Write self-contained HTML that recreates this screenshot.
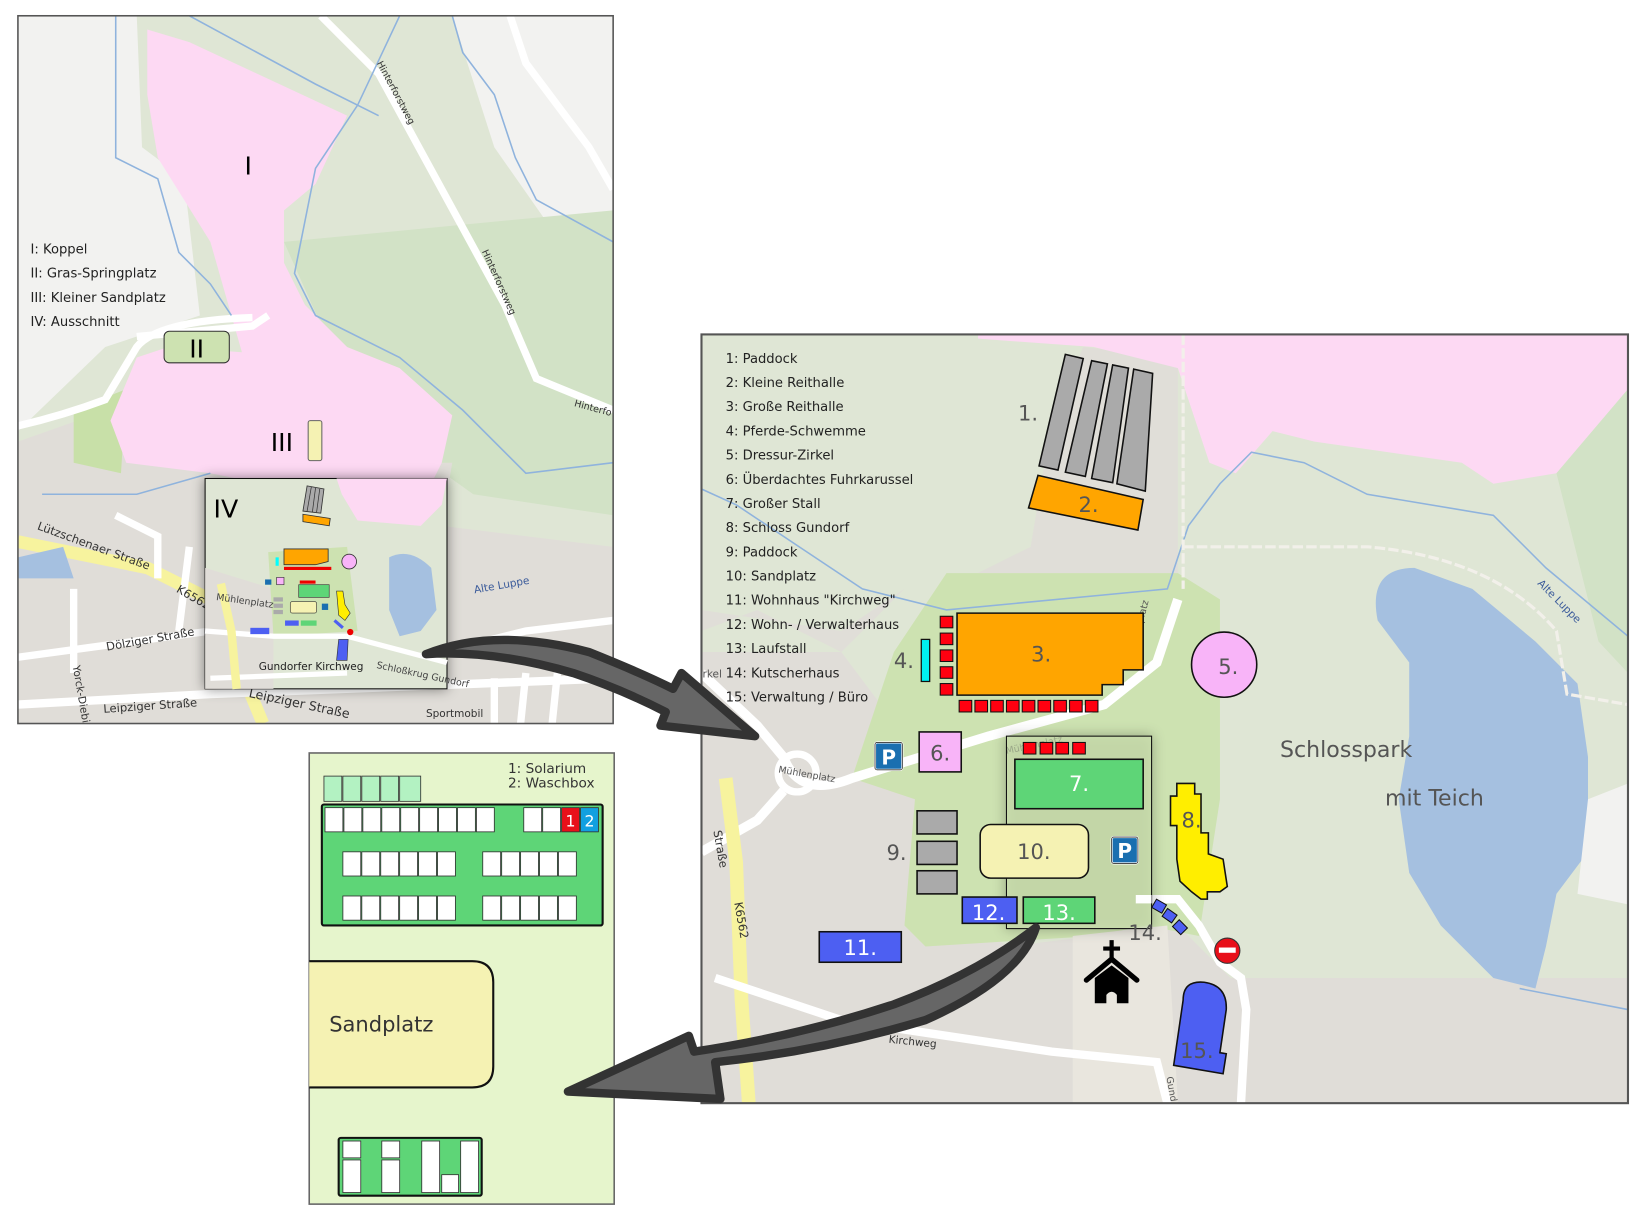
<!DOCTYPE html>
<html><head><meta charset="utf-8"><style>
html,body{margin:0;padding:0;background:#fff;}
svg{display:block;}
text{font-family:"DejaVu Sans","Liberation Sans",sans-serif;}
</style></head><body>
<svg width="1648" height="1222" viewBox="0 0 1567 1162" xmlns="http://www.w3.org/2000/svg">
<defs>
<clipPath id="cl"><rect x="17" y="15" width="566" height="673"/></clipPath>
<clipPath id="cr"><rect x="667" y="318" width="881" height="731"/></clipPath>
<filter id="sh" x="-20%" y="-20%" width="140%" height="140%"><feDropShadow dx="0" dy="0" stdDeviation="6" flood-color="#000" flood-opacity="0.45"/></filter>
</defs>
<rect width="1567" height="1162" fill="#fff"/>

<!-- LEFT MAP -->
<g clip-path="url(#cl)">
<rect x="17" y="15" width="566" height="673" fill="#dfe6d5"/>
<path d="M17 15 L130 15 L135 140 L175 170 L190 300 L100 330 L17 410 Z" fill="#f2f2f0"/>
<path d="M430 15 L583 15 L583 220 L540 240 L470 140 Z" fill="#f2f2f0"/>
<path d="M270 230 L583 200 L583 490 L450 470 L380 420 L310 320 Z" fill="#d2e2c6"/>
<path d="M17 420 L130 380 L330 440 L430 440 L420 500 L583 520 L583 688 L17 688 Z" fill="#e0ddd8"/>
<path d="M70 390 L120 370 L115 450 L70 440 Z" fill="#c8e0a8"/>
<path d="M140 28 L180 40 L330 110 L300 175 L270 200 L270 250 L290 290 L330 330 L380 350 L430 395 L420 440 L400 480 L300 470 L200 450 L120 440 L105 400 L130 340 L160 330 L230 335 L220 300 L200 230 L150 150 L140 90 Z" fill="#fdd9f3"/>
<path d="M130 320 L240 310 L255 300" stroke="#fff" stroke-width="7" fill="none"/>
<path d="M17 405 Q60 395 100 380 L130 330 Q150 305 240 302" stroke="#fff" stroke-width="7" fill="none"/>
<path d="M305 15 L360 70 L420 180 L480 290 L510 360 L583 390" stroke="#fff" stroke-width="7" fill="none"/>
<path d="M485 15 L500 60 L560 140 L583 180" stroke="#fff" stroke-width="7" fill="none"/>
<path d="M110 15 L110 150 L150 170 L170 240 L200 270 L220 300" stroke="#8fb3dd" stroke-width="1.5" fill="none"/>
<path d="M180 15 L300 80 L360 110" stroke="#8fb3dd" stroke-width="1.5" fill="none"/>
<path d="M380 15 L340 100 L300 160 L280 260 L300 300 L380 340 L440 390 L500 450 L583 440" stroke="#8fb3dd" stroke-width="1.5" fill="none"/>
<path d="M430 15 L440 50 L470 90 L490 150 L510 190 L583 230" stroke="#8fb3dd" stroke-width="1.5" fill="none"/>
<path d="M40 470 L130 470 L200 450" stroke="#8fb3dd" stroke-width="1.5" fill="none"/>
<path d="M17 515 L140 540 L200 570 L230 640 L250 688" stroke="#f7f39e" stroke-width="12" fill="none"/>
<path d="M17 670 L200 660 L583 645" stroke="#fff" stroke-width="8" fill="none"/>
<path d="M17 625 L200 600 L260 590" stroke="#fff" stroke-width="7" fill="none"/>
<path d="M110 490 L150 510 L150 550 M70 560 L70 640 M180 520 L170 600" stroke="#fff" stroke-width="7" fill="none"/>
<path d="M17 530 L60 520 L70 550 L17 550 Z" fill="#a5c0e0"/>
<path d="M420 620 L500 600 L583 590" stroke="#fff" stroke-width="7" fill="none"/>
<path d="M470 645 L470 688 M500 640 L495 688 M530 640 L525 688" stroke="#fff" stroke-width="7" fill="none"/>
<text x="322" y="60" font-size="9" fill="#333" transform="rotate(62 340 90)">Hinterforstweg</text>
<text x="425" y="250" font-size="9" fill="#333" transform="rotate(66 450 270)">Hinterforstweg</text>
<text x="545" y="390" font-size="9" fill="#333" transform="rotate(15 560 390)">Hinterfo</text>
<text x="30" y="520" font-size="11" fill="#333" transform="rotate(20 80 525)">Lützschenaer Straße</text>
<text x="165" y="570" font-size="11" fill="#333" transform="rotate(30 180 570)">K6562</text>
<text x="100" y="612" font-size="11" fill="#333" transform="rotate(-10 140 606)">Dölziger Straße</text>
<text x="98" y="675" font-size="11" fill="#333" transform="rotate(-4 140 670)">Leipziger Straße</text>
<text x="235" y="672" font-size="12" fill="#333" transform="rotate(12 280 672)">Leipziger Straße</text>
<text x="55" y="630" font-size="10" fill="#333" transform="rotate(80 60 640)">Yorck-Diebi</text>
<text x="450" y="560" font-size="10" fill="#3a5a9a" transform="rotate(-10 475 555)">Alte Luppe</text>
<text x="405" y="682" font-size="10" fill="#333">Sportmobil</text>
<text x="236" y="166" font-size="24" fill="#000" text-anchor="middle" font-family="Liberation Serif,serif">I</text>
<text x="29" y="241" font-size="12.5" fill="#222">I: Koppel</text>
<text x="29" y="264" font-size="12.5" fill="#222">II: Gras-Springplatz</text>
<text x="29" y="287" font-size="12.5" fill="#222">III: Kleiner Sandplatz</text>
<text x="29" y="310" font-size="12.5" fill="#222">IV: Ausschnitt</text>
<rect x="156" y="315" width="62" height="30" rx="5" fill="#cde2b1" stroke="#333" stroke-width="1"/>
<text x="187" y="340" font-size="24" fill="#000" text-anchor="middle" font-family="Liberation Serif,serif">II</text>
<text x="268" y="429" font-size="24" fill="#000" text-anchor="middle" font-family="Liberation Serif,serif">III</text>
<rect x="293" y="400" width="13" height="38" rx="2" fill="#f5f2b3" stroke="#666" stroke-width="1"/>
<g filter="url(#sh)"><rect x="195" y="455" width="230" height="200" fill="#dfe6d5" stroke="#111" stroke-width="1"/></g>
<path d="M320 455 L425 455 L420 480 L400 500 L340 495 L325 470 Z" fill="#fdd9f3"/>
<path d="M195 540 L260 560 L260 655 L195 655 Z" fill="#e0ddd8"/>
<path d="M255 525 L330 520 L340 600 L260 605 Z" fill="#cde2b1"/>
<path d="M370 530 Q390 520 410 540 L415 580 L400 600 L380 605 L370 580 Z" fill="#a5c0e0"/>
<path d="M195 600 L260 605 L330 605 L425 630" stroke="#fff" stroke-width="5" fill="none"/>
<path d="M200 645 L330 640" stroke="#fff" stroke-width="5" fill="none"/>
<path d="M210 555 L220 600 L225 655" stroke="#f7f39e" stroke-width="8" fill="none"/>
<text x="203" y="492" font-size="24" fill="#000" font-family="Liberation Serif,serif">IV</text>
<g transform="translate(288,462)"><path d="M4 0 L20 3 L17 26 L0 24 Z" fill="#aaa" stroke="#333" stroke-width="0.8"/><path d="M8 1 L4 24 M12 2 L9 25 M16 3 L13 25" stroke="#333" stroke-width="0.7"/><path d="M0 27 L26 31 L25 38 L0 34 Z" fill="#ffa500" stroke="#333" stroke-width="0.8"/></g>
<path d="M270 522 L312 522 L312 534 L300 537 L270 537 Z" fill="#ffa500" stroke="#333" stroke-width="0.8"/>
<rect x="262" y="530" width="3" height="8" fill="#0ff"/>
<rect x="285" y="552" width="15" height="3" fill="#e00"/>
<rect x="270" y="539" width="45" height="3" fill="#e00"/>
<circle cx="332" cy="534" r="7" fill="#f8b4f8" stroke="#333" stroke-width="0.8"/>
<rect x="263" y="549" width="7" height="7" fill="#f8b4f8" stroke="#333" stroke-width="0.6"/>
<rect x="252" y="551" width="6" height="5" fill="#1a6fb0"/>
<rect x="284" y="556" width="29" height="12" fill="#5ed577" stroke="#333" stroke-width="0.6"/>
<rect x="276" y="572" width="25" height="11" rx="2" fill="#f5f2b3" stroke="#333" stroke-width="0.6"/>
<rect x="260" y="568" width="9" height="4" fill="#aaa"/><rect x="260" y="574" width="9" height="4" fill="#aaa"/><rect x="260" y="580" width="9" height="4" fill="#aaa"/>
<rect x="306" y="574" width="6" height="6" fill="#1a6fb0"/>
<rect x="271" y="590" width="13" height="5" fill="#4d5ff2"/><rect x="286" y="590" width="15" height="5" fill="#5ed577"/>
<rect x="238" y="597" width="18" height="6" fill="#4d5ff2"/>
<path d="M320 562 L326 562 L328 575 L333 583 L328 590 L322 585 Z" fill="#ffee00" stroke="#333" stroke-width="0.6"/>
<path d="M318 590 L326 597" stroke="#4d5ff2" stroke-width="3"/>
<circle cx="333" cy="601" r="3" fill="#e00"/>
<path d="M322 608 L331 608 L330 628 L320 628 Z" fill="#4d5ff2" stroke="#333" stroke-width="0.6"/>
<text x="205" y="574" font-size="9" fill="#444" transform="rotate(8 230 574)">Mühlenplatz</text>
<text x="246" y="637" font-size="10" fill="#222">Gundorfer Kirchweg</text>
<text x="356" y="640" font-size="9" fill="#444" transform="rotate(12 380 645)">Schloßkrug Gundorf</text>
</g>
<rect x="17" y="15" width="566" height="673" fill="none" stroke="#555" stroke-width="1.5"/>

<!-- BOTTOM-LEFT panel -->
<rect x="294" y="716" width="290" height="429" fill="#e6f5cc" stroke="#666" stroke-width="1.5"/>
<text x="483" y="735" font-size="13" fill="#333">1: Solarium</text>
<text x="483" y="749" font-size="13" fill="#333">2: Waschbox</text>
<g fill="#b3f2c2" stroke="#333" stroke-width="0.8">
<rect x="308" y="738" width="17" height="24"/><rect x="326" y="738" width="17" height="24"/><rect x="344" y="738" width="17" height="24"/><rect x="362" y="738" width="17" height="24"/><rect x="380" y="738" width="20" height="24"/>
</g>
<rect x="306" y="765" width="267" height="115" rx="2" fill="#5ed577" stroke="#111" stroke-width="2"/>
<g fill="#fff" stroke="#333" stroke-width="0.8">
<rect x="309" y="768" width="17" height="23"/><rect x="327" y="768" width="17" height="23"/><rect x="345" y="768" width="17" height="23"/><rect x="363" y="768" width="17" height="23"/><rect x="381" y="768" width="17" height="23"/><rect x="399" y="768" width="17" height="23"/><rect x="417" y="768" width="17" height="23"/><rect x="435" y="768" width="17" height="23"/><rect x="453" y="768" width="17" height="23"/>
<rect x="498" y="768" width="17" height="23"/><rect x="516" y="768" width="17" height="23"/>
<rect x="326" y="810" width="17" height="23"/><rect x="344" y="810" width="17" height="23"/><rect x="362" y="810" width="17" height="23"/><rect x="380" y="810" width="17" height="23"/><rect x="398" y="810" width="17" height="23"/><rect x="416" y="810" width="17" height="23"/>
<rect x="459" y="810" width="17" height="23"/><rect x="477" y="810" width="17" height="23"/><rect x="495" y="810" width="17" height="23"/><rect x="513" y="810" width="17" height="23"/><rect x="531" y="810" width="17" height="23"/>
<rect x="326" y="852" width="17" height="23"/><rect x="344" y="852" width="17" height="23"/><rect x="362" y="852" width="17" height="23"/><rect x="380" y="852" width="17" height="23"/><rect x="398" y="852" width="17" height="23"/><rect x="416" y="852" width="17" height="23"/>
<rect x="459" y="852" width="17" height="23"/><rect x="477" y="852" width="17" height="23"/><rect x="495" y="852" width="17" height="23"/><rect x="513" y="852" width="17" height="23"/><rect x="531" y="852" width="17" height="23"/>
</g>
<rect x="534" y="768" width="17" height="23" fill="#e8101a" stroke="#333" stroke-width="0.8"/>
<rect x="552" y="768" width="17" height="23" fill="#12a0e0" stroke="#333" stroke-width="0.8"/>
<text x="542.5" y="786" font-size="15" fill="#fff" text-anchor="middle">1</text>
<text x="560.5" y="786" font-size="15" fill="#fff" text-anchor="middle">2</text>
<path d="M294 914 L449 914 Q469 914 469 934 L469 1014 Q469 1034 449 1034 L294 1034" fill="#f5f2b3" stroke="#111" stroke-width="2"/>
<text x="313" y="981" font-size="20" fill="#333">Sandplatz</text>
<rect x="322" y="1082" width="136" height="55" rx="2" fill="#5ed577" stroke="#111" stroke-width="2"/>
<g fill="#fff" stroke="#333" stroke-width="0.8">
<rect x="326" y="1085" width="17" height="16"/><rect x="326" y="1103" width="17" height="31"/>
<rect x="363" y="1085" width="17" height="16"/><rect x="363" y="1103" width="17" height="31"/>
<rect x="401" y="1085" width="17" height="49"/><rect x="420" y="1117" width="16" height="17"/><rect x="438" y="1085" width="17" height="49"/>
</g>

<!-- RIGHT MAP -->
<g clip-path="url(#cr)">
<rect x="667" y="318" width="881" height="731" fill="#dfe6d5"/>
<path d="M667 600 L720 580 L800 620 L860 560 L900 560 L1120 550 L1120 340 L1030 330 L1000 400 L980 520 L900 560 L860 560 L800 600 L667 580 Z" fill="#e0ddd8" opacity="0.9"/>
<path d="M667 620 L800 620 L860 700 L900 870 L960 900 L1040 890 L1120 880 L1170 930 L1548 930 L1548 1049 L667 1049 Z" fill="#e0ddd8"/>
<path d="M900 545 L1120 545 L1160 570 L1160 760 L1140 890 L1090 880 L1040 890 L880 900 L860 880 L870 760 L810 740 L850 620 Z" fill="#cde2b1"/>
<path d="M1020 890 L1110 880 L1120 1049 L1020 1049 Z" fill="#e9e6de"/>
<path d="M930 318 L1548 318 L1548 370 L1480 450 L1420 460 L1390 440 L1250 420 L1210 410 L1175 450 L1150 440 L1120 350 L1040 330 L930 322 Z" fill="#fdd9f3"/>
<path d="M1480 450 L1548 370 L1548 640 L1520 610 Z" fill="#d2e2c6"/>
<path d="M1345 540 Q1300 540 1310 590 L1340 630 L1340 700 L1330 760 L1340 830 L1370 880 L1420 930 L1460 940 L1470 900 L1480 850 L1510 810 L1510 720 L1500 650 L1460 610 L1400 560 Z" fill="#a5c0e0"/>
<path d="M1510 760 L1548 745 L1548 860 L1500 850 Z" fill="#f2f2f0"/>
<path d="M667 465 L700 480 L760 520 L820 560 L900 580 L1110 560 L1130 500 L1160 460 L1190 430 L1240 440 L1300 470 L1420 490 L1470 540 L1548 605" stroke="#8fb3dd" stroke-width="1.5" fill="none"/>
<path d="M1445 940 L1548 960" stroke="#8fb3dd" stroke-width="1.5" fill="none"/>
<path d="M1125 318 L1125 560" stroke="#f2f0ea" stroke-width="3" stroke-dasharray="10 3" fill="none"/>
<path d="M1125 520 L1300 520 Q1420 530 1480 600 L1490 660 L1548 670" stroke="#f2f0ea" stroke-width="3" stroke-dasharray="10 3" fill="none"/>
<path d="M667 640 L720 690 L745 720 Q760 760 810 740 L940 700 L1050 670 L1100 630 L1120 570" stroke="#fff" stroke-width="9" fill="none"/>
<circle cx="758" cy="735" r="18" stroke="#fff" stroke-width="7" fill="none"/>
<path d="M745 752 L720 780 L667 810" stroke="#fff" stroke-width="9" fill="none"/>
<path d="M690 740 L700 820 L705 950 L712 1049" stroke="#f7f39e" stroke-width="13" fill="none"/>
<path d="M680 930 L800 970 L1000 1000 L1100 1010 L1110 1049" stroke="#fff" stroke-width="8" fill="none"/>
<path d="M1080 855 L1120 855 L1140 880 L1160 915 L1180 930 L1185 960 L1180 1049" stroke="#fff" stroke-width="8" fill="none"/>
<text x="1280" y="720" font-size="21" fill="#555" text-anchor="middle">Schlosspark</text>
<text x="1364" y="766" font-size="21" fill="#555" text-anchor="middle">mit Teich</text>
<text x="1445" y="565" font-size="10" fill="#3a5a9a" transform="rotate(45 1465 580)">Alte Luppe</text>
<text x="1090" y="600" font-size="9" fill="#555" transform="rotate(-75 1100 620)">Mühlenplatz</text>
<text x="955" y="712" font-size="9" fill="#555" transform="rotate(-12 980 705)">Mühlenplatz</text>
<text x="740" y="738" font-size="9" fill="#555" transform="rotate(10 760 735)">Mühlenplatz</text>
<text x="670" y="800" font-size="11" fill="#333" transform="rotate(80 680 800)">Straße</text>
<text x="680" y="860" font-size="11" fill="#333" transform="rotate(80 690 870)">K6562</text>
<text x="845" y="993" font-size="10" fill="#333" transform="rotate(6 860 990)">Kirchweg</text>
<text x="1100" y="1025" font-size="9" fill="#555" transform="rotate(80 1105 1030)">Gund</text>
<text x="668" y="644" font-size="10" fill="#555">rkel</text>
<g font-size="12.5" fill="#222">
<text x="690" y="345">1: Paddock</text><text x="690" y="368">2: Kleine Reithalle</text><text x="690" y="391">3: Große Reithalle</text><text x="690" y="414">4: Pferde-Schwemme</text><text x="690" y="437">5: Dressur-Zirkel</text><text x="690" y="460">6: Überdachtes Fuhrkarussel</text><text x="690" y="483">7: Großer Stall</text><text x="690" y="506">8: Schloss Gundorf</text><text x="690" y="529">9: Paddock</text><text x="690" y="552">10: Sandplatz</text><text x="690" y="575">11: Wohnhaus "Kirchweg"</text><text x="690" y="598">12: Wohn- / Verwalterhaus</text><text x="690" y="621">13: Laufstall</text><text x="690" y="644">14: Kutscherhaus</text><text x="690" y="667">15: Verwaltung / Büro</text>
</g>
<g fill="#aaa" stroke="#111" stroke-width="1.5">
<path d="M1013 337 L1030 341 L1006 447 L988 443 Z"/><path d="M1038 343 L1053 346 L1032 453 L1013 449 Z"/><path d="M1058 347 L1073 350 L1058 459 L1038 455 Z"/><path d="M1078 351 L1096 355 L1089 467 L1062 460 Z"/>
</g>
<text x="968" y="400" font-size="20" fill="#555">1.</text>
<path d="M987 452 L1087 475 L1082 504 L978 483 Z" fill="#ffa500" stroke="#111" stroke-width="1.5"/>
<text x="1035" y="487" font-size="20" fill="#555" text-anchor="middle">2.</text>
<path d="M910 583 L1087 583 L1087 637 L1068 637 L1068 651 L1048 651 L1048 661 L910 661 Z" fill="#ffa500" stroke="#111" stroke-width="1.5"/>
<text x="990" y="629" font-size="20" fill="#555" text-anchor="middle">3.</text>
<g fill="#ff0010" stroke="#111" stroke-width="1">
<rect x="894" y="586" width="12" height="11"/><rect x="894" y="602" width="12" height="11"/><rect x="894" y="618" width="12" height="11"/><rect x="894" y="634" width="12" height="11"/><rect x="894" y="650" width="12" height="11"/>
<rect x="912" y="666" width="12" height="11"/><rect x="927" y="666" width="12" height="11"/><rect x="942" y="666" width="12" height="11"/><rect x="957" y="666" width="12" height="11"/><rect x="972" y="666" width="12" height="11"/><rect x="987" y="666" width="12" height="11"/><rect x="1002" y="666" width="12" height="11"/><rect x="1017" y="666" width="12" height="11"/><rect x="1032" y="666" width="12" height="11"/>
</g>
<rect x="876" y="608" width="8" height="40" fill="#00f0f0" stroke="#111" stroke-width="1.2"/>
<text x="850" y="635" font-size="20" fill="#555">4.</text>
<circle cx="1164" cy="632" r="31" fill="#f8b4f8" stroke="#111" stroke-width="1.5"/>
<text x="1168" y="641" font-size="20" fill="#555" text-anchor="middle">5.</text>
<rect x="874" y="696" width="40" height="38" fill="#f8b4f8" stroke="#111" stroke-width="1.5"/>
<text x="894" y="723" font-size="20" fill="#555" text-anchor="middle">6.</text>
<g><rect x="832" y="706" width="26" height="26" rx="2" fill="#1a6fb0" stroke="#fff" stroke-width="2"/><rect x="832" y="706" width="26" height="26" rx="2" fill="none" stroke="#333" stroke-width="0.8"/><text x="845" y="727" font-size="19" font-weight="bold" fill="#fff" text-anchor="middle">P</text></g>
<g fill="#aaa" stroke="#111" stroke-width="1.5"><rect x="872" y="771" width="38" height="22"/><rect x="872" y="800" width="38" height="22"/><rect x="872" y="828" width="38" height="22"/></g>
<text x="843" y="818" font-size="20" fill="#555">9.</text>
<g filter="url(#sh)"><rect x="957" y="700" width="138" height="183" fill="#cde2b1" fill-opacity="0.55" stroke="#111" stroke-width="1"/></g>
<path d="M1080 855 L1095 855" stroke="#fff" stroke-width="8"/>
<rect x="932" y="784" width="103" height="51" rx="10" fill="#f5f2b3" stroke="#111" stroke-width="1.5"/>
<text x="983" y="817" font-size="20" fill="#555" text-anchor="middle">10.</text>
<g fill="#ff0010" stroke="#111" stroke-width="1"><rect x="973" y="706" width="12" height="11"/><rect x="989" y="706" width="12" height="11"/><rect x="1004" y="706" width="12" height="11"/><rect x="1020" y="706" width="12" height="11"/></g>
<rect x="965" y="722" width="122" height="47" fill="#5ed577" stroke="#111" stroke-width="1.5"/>
<text x="1026" y="752" font-size="20" fill="#fff" text-anchor="middle">7.</text>
<g><rect x="1057" y="796" width="25" height="25" rx="2" fill="#1a6fb0" stroke="#fff" stroke-width="2"/><rect x="1057" y="796" width="25" height="25" rx="2" fill="none" stroke="#333" stroke-width="0.8"/><text x="1069.5" y="816" font-size="19" font-weight="bold" fill="#fff" text-anchor="middle">P</text></g>
<rect x="915" y="853" width="52" height="25" fill="#4d5ff2" stroke="#111" stroke-width="1.5"/>
<text x="940" y="875" font-size="20" fill="#fff" text-anchor="middle">12.</text>
<rect x="973" y="853" width="68" height="25" fill="#5ed577" stroke="#111" stroke-width="1.5"/>
<text x="1007" y="875" font-size="20" fill="#fff" text-anchor="middle">13.</text>
<rect x="779" y="886" width="78" height="29" fill="#4d5ff2" stroke="#111" stroke-width="1.5"/>
<text x="818" y="908" font-size="20" fill="#fff" text-anchor="middle">11.</text>
<path d="M1119 745 L1136 745 L1136 755 L1142 755 L1142 792 L1149 792 L1149 812 L1163 817 L1167 843 L1160 848 L1148 848 L1148 855 L1142 855 L1133 848 L1122 838 L1119 817 L1119 785 L1113 785 L1113 757 L1119 757 Z" fill="#ffee00" stroke="#111" stroke-width="1.5"/>
<text x="1133" y="787" font-size="20" fill="#555" text-anchor="middle">8.</text>
<g fill="#4d5ff2" stroke="#111" stroke-width="1"><rect x="1097" y="857" width="11" height="9" transform="rotate(30 1102 861)"/><rect x="1107" y="866" width="11" height="9" transform="rotate(35 1112 870)"/><rect x="1117" y="877" width="11" height="9" transform="rotate(45 1122 881)"/></g>
<text x="1073" y="894" font-size="20" fill="#555">14.</text>
<g transform="translate(1057,924)"><path d="M-2 -30 L2 -30 L2 -24 L8 -24 L8 -20 L2 -20 L2 -12 L-2 -12 L-2 -20 L-8 -20 L-8 -24 L-2 -24 Z" fill="#000"/><path d="M-24 8 L0 -12 L24 8" stroke="#000" stroke-width="5" fill="none" stroke-linecap="round"/><path d="M-16 6 L0 -6 L16 6 L16 30 L5 30 L5 22 Q0 16 -5 22 L-5 30 L-16 30 Z" fill="#000"/></g>
<circle cx="1167" cy="904" r="12" fill="#e8101a" stroke="#333" stroke-width="1"/><rect x="1159" y="901" width="16" height="5" fill="#fff"/>
<path d="M1125 951 Q1125 932 1145 934 Q1167 937 1166 960 L1160 1001 L1166 1002 L1163 1021 L1116 1013 Z" fill="#4d5ff2" stroke="#111" stroke-width="1.5"/>
<text x="1138" y="1006" font-size="20" fill="#555" text-anchor="middle">15.</text>
</g>
<rect x="667" y="318" width="881" height="731" fill="none" stroke="#555" stroke-width="2"/>

<path d="M405 622 Q470 596 560 620 Q610 640 640 655 L648 640 L718 700 L628 690 L633 677 Q590 655 545 640 Q470 618 405 622 Z" fill="#666" stroke="#333" stroke-width="8" stroke-linejoin="round"/>
<path d="M985 882 Q970 930 880 970 Q780 1000 680 1010 L685 1045 L540 1038 L655 985 L660 1000 Q760 985 850 955 Q930 925 985 882 Z" fill="#666" stroke="#333" stroke-width="8" stroke-linejoin="round"/>
</svg>
</body></html>
